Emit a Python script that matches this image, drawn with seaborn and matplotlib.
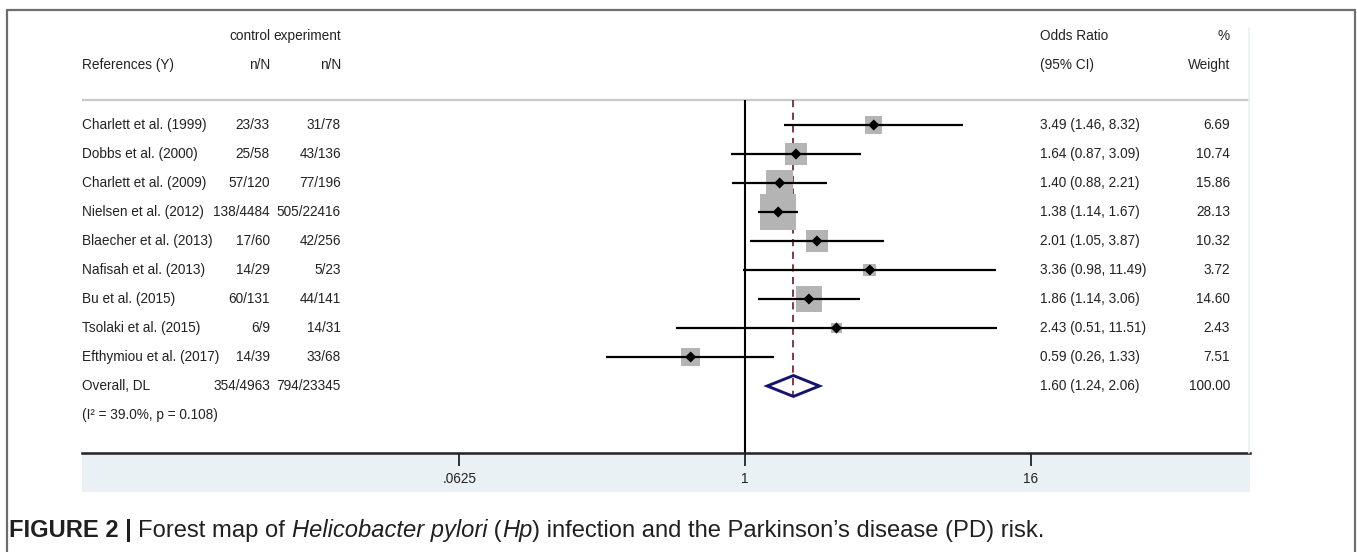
import numpy as np
import pandas as pd
import matplotlib
matplotlib.use('Agg')
import matplotlib.pyplot as plt
import matplotlib.transforms as mtransforms
from matplotlib.patches import Polygon, Rectangle
from matplotlib.lines import Line2D
import seaborn as sns

studies = ['Charlett et al. (1999)', 'Dobbs et al. (2000)', 'Charlett et al. (2009)',
           'Nielsen et al. (2012)', 'Blaecher et al. (2013)', 'Nafisah et al. (2013)',
           'Bu et al. (2015)', 'Tsolaki et al. (2015)', 'Efthymiou et al. (2017)']
control = ['23/33', '25/58', '57/120', '138/4484', '17/60', '14/29', '60/131', '6/9', '14/39']
experiment = ['31/78', '43/136', '77/196', '505/22416', '42/256', '5/23', '44/141', '14/31', '33/68']
odds = [3.49, 1.64, 1.40, 1.38, 2.01, 3.36, 1.86, 2.43, 0.59]
ci_low = [1.46, 0.87, 0.88, 1.14, 1.05, 0.98, 1.14, 0.51, 0.26]
ci_high = [8.32, 3.09, 2.21, 1.67, 3.87, 11.49, 3.06, 11.51, 1.33]
weight = [6.69, 10.74, 15.86, 28.13, 10.32, 3.72, 14.60, 2.43, 7.51]

overall_label = 'Overall, DL'
overall_ctrl = '354/4963'
overall_exp = '794/23345'
overall_or = 1.60
overall_lo = 1.24
overall_hi = 2.06
overall_w = 100.00
het_text = '(I\u00b2 = 39.0%, p = 0.108)'

W, H = 1357, 552


def fx(px):
    return px / W


def fy(py):
    return 1 - py / H


sns.set_theme(style='white')
plt.rcParams['font.family'] = ['Liberation Sans', 'DejaVu Sans']

df = pd.DataFrame({'study': studies, 'OR': odds, 'lo': ci_low, 'hi': ci_high,
                   'weight': weight, 'row': np.arange(len(studies))})

fig = plt.figure(figsize=(W / 100, H / 100), dpi=100)
row_px0, row_step = 125, 29.0
top_px, bot_px = 20, 453
ax = fig.add_axes([fx(82), fy(bot_px), fx(1250) - fx(82), (bot_px - top_px) / H])
ax.set_facecolor('none')
ax.set_xscale('log', base=2)
ax.set_xlim(2 ** ((82 - 745) / 71.4), 2 ** ((1250 - 745) / 71.4))
ax.set_ylim((bot_px - row_px0) / row_step, (top_px - row_px0) / row_step)

sep_row = (100 - row_px0) / row_step
ybot = ax.get_ylim()[0]

# reference lines
ax.vlines(1, sep_row, ybot, color='black', lw=1.5, zorder=2)
ax.vlines(overall_or, sep_row, 9 + 0.36, color='#7a2a3a', lw=1.3,
          linestyles=(0, (4, 3)), zorder=2)
ax.axhline(sep_row, color='#c9c9c9', lw=1.6, zorder=1)

# weight squares
k = 23.3
sns.scatterplot(data=df, x='OR', y='row', size='weight', marker='s',
                sizes=(k * min(weight), k * max(weight)), color='#b4b4b4',
                edgecolor='none', legend=False, ax=ax, zorder=3)
ax.hlines(df['row'], df['lo'], df['hi'], color='black', lw=1.6, zorder=4)
sns.scatterplot(data=df, x='OR', y='row', marker='D', s=32, color='black',
                edgecolor='none', legend=False, ax=ax, zorder=5)

# overall diamond
dh = 0.36
ax.add_patch(Polygon([(overall_lo, 9), (overall_or, 9 - dh), (overall_hi, 9), (overall_or, 9 + dh)],
                     closed=True, fill=False, edgecolor='#14146e', lw=2.1, zorder=5))

# axis styling
for s in ['top', 'left', 'right']:
    ax.spines[s].set_visible(False)
ax.spines['bottom'].set_color('#222222')
ax.spines['bottom'].set_linewidth(1.8)
ax.set_yticks([])
ax.set_xticks([1 / 16, 1, 16])
ax.set_xticklabels(['.0625', '1', '16'])
ax.minorticks_off()
ax.tick_params(axis='x', which='major', direction='out', length=9, width=1.3,
               color='#222222', labelsize=9.8, labelcolor='#222222', pad=5, bottom=True)
ax.set_xlabel('')
ax.set_ylabel('')

# shaded band under the axis and frame
fig.patches.append(Rectangle((fx(82), fy(492)), fx(1250) - fx(82), (492 - 453) / H,
                             transform=fig.transFigure, facecolor='#eaf1f4', edgecolor='none', zorder=-1))
fig.add_artist(Line2D([fx(1249), fx(1249)], [fy(28), fy(453)], color='#eaf1f4', lw=1.2))
frame_c = '#6e6e6e'
fig.add_artist(Line2D([fx(7), fx(1355)], [fy(10), fy(10)], color=frame_c, lw=1.6))
fig.add_artist(Line2D([fx(7), fx(7)], [fy(10), 0], color=frame_c, lw=1.6))
fig.add_artist(Line2D([fx(1355), fx(1355)], [fy(10), 0], color=frame_c, lw=1.6))

# table text
tr = mtransforms.blended_transform_factory(fig.transFigure, ax.transData)
fs = 9.8
tc = '#222222'
h1 = (36 - row_px0) / row_step
h2 = (65 - row_px0) / row_step


def txt(px, row, s, ha='left'):
    ax.text(fx(px), row, s, transform=tr, ha=ha, va='center', fontsize=fs, color=tc, clip_on=False)


txt(270, h1, 'control', 'right')
txt(341, h1, 'experiment', 'right')
txt(82, h2, 'References (Y)')
txt(270, h2, 'n/N', 'right')
txt(341, h2, 'n/N', 'right')
txt(1040, h1, 'Odds Ratio')
txt(1040, h2, '(95% CI)')
txt(1230, h1, '%', 'right')
txt(1230, h2, 'Weight', 'right')

for i in range(len(studies)):
    txt(82, i, studies[i])
    txt(270, i, control[i], 'right')
    txt(341, i, experiment[i], 'right')
    txt(1040, i, '%.2f (%.2f, %.2f)' % (odds[i], ci_low[i], ci_high[i]))
    txt(1230, i, '%.2f' % weight[i], 'right')

txt(82, 9, overall_label)
txt(270, 9, overall_ctrl, 'right')
txt(341, 9, overall_exp, 'right')
txt(1040, 9, '%.2f (%.2f, %.2f)' % (overall_or, overall_lo, overall_hi))
txt(1230, 9, '%.2f' % overall_w, 'right')
txt(82, 10, het_text)

# caption with mixed styles
cap_fs = 17.1
cap_font = ['Liberation Sans', 'DejaVu Sans']
pieces = [('FIGURE 2 | ', 'bold', 'normal'), ('Forest map of ', 'normal', 'normal'),
          ('Helicobacter pylori', 'normal', 'italic'), (' (', 'normal', 'normal'),
          ('Hp', 'normal', 'italic'),
          (') infection and the Parkinson\u2019s disease (PD) risk.', 'normal', 'normal')]
prev = fig.text(fx(9), fy(530), pieces[0][0], fontsize=cap_fs, fontweight=pieces[0][1],
                fontstyle=pieces[0][2], family=cap_font, color='#231f20', va='center')
for s, w, st in pieces[1:]:
    prev = ax.annotate(s, xy=(1, 0), xycoords=prev, va='bottom', ha='left', fontsize=cap_fs,
                       fontweight=w, fontstyle=st, family=cap_font, color='#231f20',
                       annotation_clip=False)

fig.savefig('out.png', dpi=100)
